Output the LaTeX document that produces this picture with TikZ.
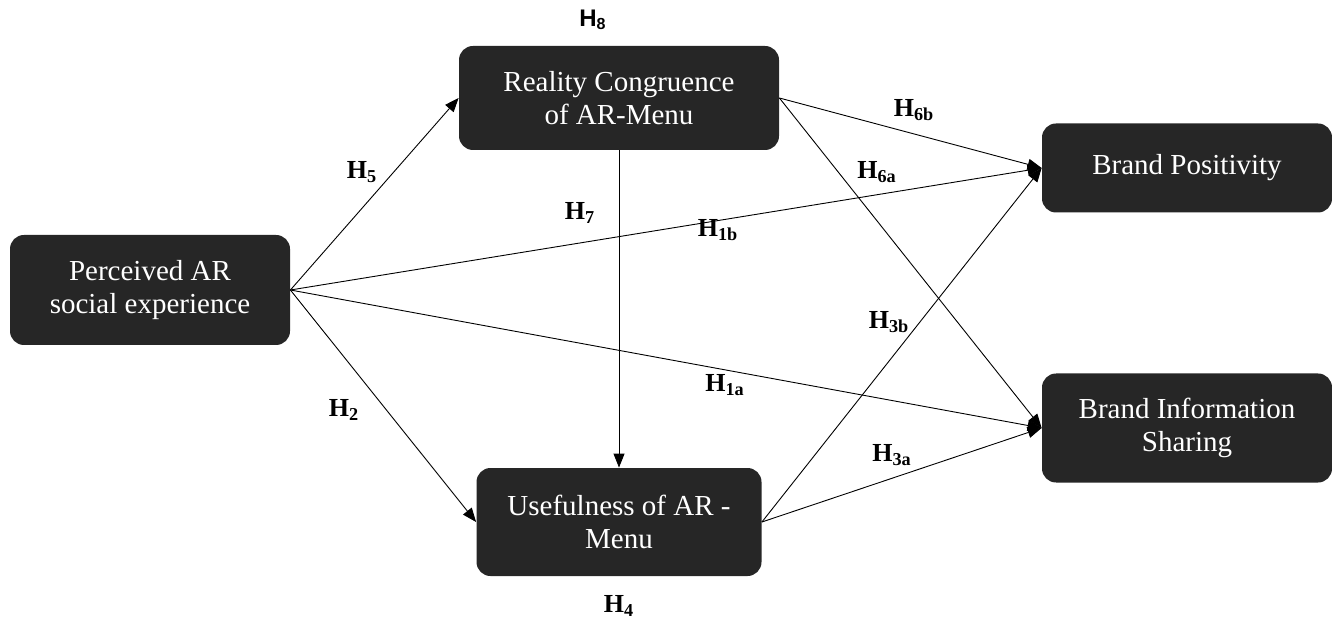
\documentclass[tikz,border=0pt]{standalone}
\usepackage{fontspec}
\setmainfont{Liberation Serif}
\newfontfamily\hsans{Liberation Sans}
\usetikzlibrary{arrows.meta}
\definecolor{boxgray}{HTML}{262626}
\begin{document}
\begin{tikzpicture}[x=.5pt,y=-.5pt,
  factor/.style={fill=boxgray,text=white,rounded corners=7pt,align=center,
    inner sep=0pt,font=\fontsize{14.5}{16.5}\selectfont},
  link/.style={-{Triangle[length=7pt,width=5.5pt]},line width=.45pt},
  hyp/.style={font=\fontsize{13}{15}\selectfont\bfseries}]
  \useasboundingbox (0,0) rectangle (1332,625);
  \node[factor,minimum width=140pt,minimum height=55pt] (pas) at (150,290)
    {Perceived AR\\social experience};
  \node[factor,minimum width=160pt,minimum height=52pt] (rc) at (619,98)
    {Reality Congruence\\of AR-Menu};
  \node[factor,minimum width=142.5pt,minimum height=54pt] (use) at (619,522)
    {Usefulness of AR -\\Menu};
  \node[factor,minimum width=145pt,minimum height=44.5pt] (bp) at (1187,168)
    {Brand Positivity};
  \node[factor,minimum width=145pt,minimum height=54.5pt] (bis) at (1187,428)
    {Brand Information\\Sharing};
  \draw[link] (pas.east) -- (rc.west);
  \draw[link] (pas.east) -- (use.west);
  \draw[link] (pas.east) -- (bp.west);
  \draw[link] (pas.east) -- (bis.west);
  \draw[link] (rc.south) -- (use.north);
  \draw[link] (rc.east) -- (bp.west);
  \draw[link] (rc.east) -- (bis.west);
  \draw[link] (use.east) -- (bp.west);
  \draw[link] (use.east) -- (bis.west);
  \node[font=\hsans\bfseries\fontsize{12}{14}\selectfont] (h8) at (593,20) {H\textsubscript{8}};
  \node[hyp] (h5) at (362,172) {H\textsubscript{5}};
  \node[hyp] (h2) at (344,410) {H\textsubscript{2}};
  \node[hyp] (h4) at (619,606) {H\textsubscript{4}};
  \node[hyp] (h7) at (580,213) {H\textsubscript{7}};
  \node[hyp] (h1b) at (718,230) {H\textsubscript{1b}};
  \node[hyp] (h1a) at (725,385) {H\textsubscript{1a}};
  \node[hyp] (h6b) at (914,110) {H\textsubscript{6b}};
  \node[hyp] (h6a) at (877,172) {H\textsubscript{6a}};
  \node[hyp] (h3b) at (889,322) {H\textsubscript{3b}};
  \node[hyp] (h3a) at (892,455) {H\textsubscript{3a}};
\end{tikzpicture}
\end{document}
